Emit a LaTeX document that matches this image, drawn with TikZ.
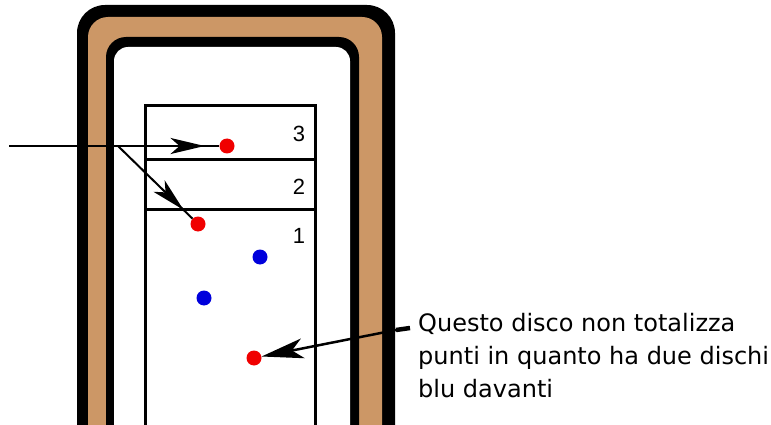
\documentclass[tikz,border=0pt]{standalone}
\usepackage{fontspec}
\setmainfont{DejaVu Sans}
\newfontfamily\digitfont{Liberation Sans}
\usepackage{xcolor}
\definecolor{tablebrown}{RGB}{204,151,102}
\definecolor{discred}{RGB}{240,0,0}
\definecolor{discblue}{RGB}{0,0,220}
\usetikzlibrary{positioning, arrows.meta, decorations.markings}

\begin{document}
\begin{tikzpicture}[
    % GLOBAL CFG
    x=1pt, y=-1pt,
    % Styles
    disc/.style={% For the stones
        circle,
        inner sep=0pt,
        minimum size=15pt,
        },
    reddisc/.style={disc, fill=discred},
    bluedisc/.style={disc, fill=discblue},
    zone/.style={% For the scoring box
        line width=3pt,
        },
    score/.style={% Numbers of the zones
        font=\digitfont\fontsize{22}{26}\selectfont,
        inner sep=0pt,
        },
    note/.style={% The comment on the right
        font=\fontsize{24}{33}\selectfont,
        align=left,
        inner sep=0pt,
        },
    shottip/.tip={Stealth[length=34pt,width=16pt,inset=9pt]},
    midarrow/.style={% Arrow head inside the line
        decoration={markings, mark=at position #1 with {\arrow{shottip}}},
        postaction={decorate},
        },
    ]
    \useasboundingbox (0,0) rectangle (771,425);
    \clip (0,0) rectangle (771,425);

    % Draw the table border
    \fill[black, rounded corners=28pt] (77,5) rectangle (395,470);
    \fill[tablebrown, rounded corners=20pt] (88,17) rectangle (382,470);
    \fill[black, rounded corners=20pt] (106,37) rectangle (359,470);
    \fill[white, rounded corners=14pt] (114,47) rectangle (350,470);

    % Draw the scoring zones
    \draw[zone] (145,106) rectangle (315,470);
    \draw[zone] (145,160) -- (315,160);
    \draw[zone] (145,209) -- (315,209);
    \node[score] (n3) at (299,134) {3};
    \node[score] (n2) at (299,187) {2};
    \node[score] (n1) at (299,236) {1};

    % Draw the discs
    \node[reddisc] (red3) at (227,146) {};
    \node[reddisc] (red1) at (198,224) {};
    \node[bluedisc] (blue1) at (260,257) {};
    \node[bluedisc] (blue2) at (204,298) {};
    \node[reddisc] (redlow) at (254,358) {};

    % Shots
    \coordinate (start) at (9,146);
    \coordinate (split) at (118,146);
    \draw[line width=2.5pt, midarrow=0.93] (start) -- (red3);
    \draw[line width=2pt, midarrow=0.88] (split) -- (red1);

    % Comment
    \node[note, anchor=north west] (note) at (418,313)
        {Questo disco non totalizza\\punti in quanto ha due dischi\\blu davanti};
    \coordinate (tail) at (410,328);
    \coordinate (bend) at (396,330);
    \draw[line width=4.5pt] (tail) -- (bend);
    \draw[line width=2.5pt, -{Stealth[length=42pt,width=20pt,inset=11pt]}] (bend) -- (redlow);

\end{tikzpicture}
\end{document}
